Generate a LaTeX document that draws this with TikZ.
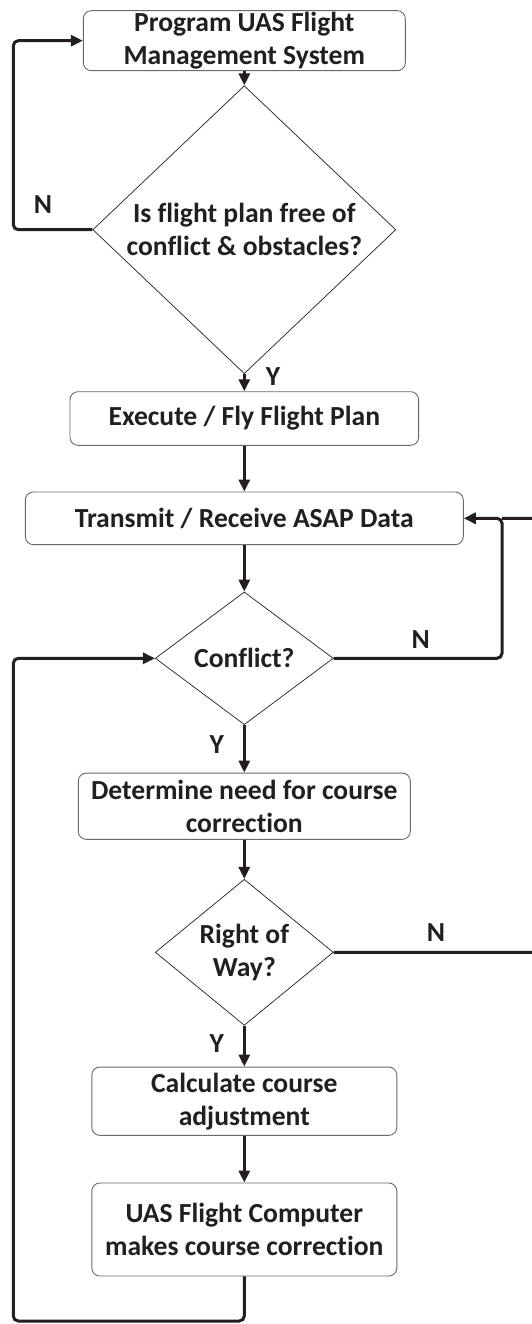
\documentclass[tikz,border=0pt]{standalone}
\usepackage{fontspec}
\setmainfont{Carlito}[Ligatures={NoCommon}]
\usetikzlibrary{shapes.geometric,arrows.meta}
\definecolor{ink}{HTML}{231F20}
\definecolor{boxline}{HTML}{6A6A6A}
\begin{document}
\begin{tikzpicture}[x=1pt,y=-1pt,
  every node/.style={font=\fontsize{27.6}{33}\selectfont\bfseries, text=ink},
  procbox/.style={draw=boxline, line width=0.9pt, rounded corners=8pt, inner sep=0pt, align=center},
  decide/.style={draw=ink, line width=0.7pt, diamond, inner sep=0pt, align=center},
  conn/.style={draw=ink, line width=3pt, rounded corners=5pt},
  arr/.style={conn, -{Triangle[length=12pt,width=11pt]}},
  lbl/.style={inner sep=0pt}]
\clip (0,0) rectangle (532,1324);
\fill[white] (0,0) rectangle (532,1324);

\node[procbox, minimum width=322pt, minimum height=60pt] (b1) at (244.3,40.7) {Program UAS Flight\\Management System};
\node[decide, minimum width=303pt, minimum height=226pt] (d1) at (244.3,229.7) {Is flight plan free of\\conflict \& obstacles?};
\node[procbox, minimum width=348.6pt, minimum height=53.6pt] (b2) at (244.3,418.5) {Execute / Fly Flight Plan};
\node[procbox, minimum width=438pt, minimum height=52.7pt] (b3) at (244.3,518.3) {Transmit / Receive ASAP Data};
\node[decide, minimum width=178pt, minimum height=132.7pt] (d2) at (244.3,658.3) {Conflict?};
\node[procbox, minimum width=332pt, minimum height=66.3pt] (b4) at (244.3,806.2) {Determine need for course\\correction};
\node[decide, minimum width=178pt, minimum height=132.7pt] (d3) at (244.3,952.3) {Right of\\Way?};
\node[procbox, minimum width=305pt, minimum height=68.3pt] (b5) at (244.3,1101.2) {Calculate course\\adjustment};
\node[procbox, minimum width=305pt, minimum height=93pt] (b6) at (244.3,1229.5) {UAS Flight Computer\\makes course correction};

\coordinate (l1a) at (13.3,229.7);
\coordinate (l1b) at (13.3,40.7);
\coordinate (r2a) at (502,658.3);
\coordinate (r2b) at (502,518.3);
\coordinate (r3a) at (545,952.3);
\coordinate (r3b) at (545,518.3);
\coordinate (bl1) at (244.3,1321);
\coordinate (bl2) at (13.3,1321);
\coordinate (bl3) at (13.3,658.3);

\draw[arr] (b1.south) -- (d1.north);
\draw[arr] (d1.west) -- (l1a) -- (l1b) -- (b1.west);
\draw[arr] (d1.south) -- (b2.north);
\draw[arr] (b2.south) -- (b3.north);
\draw[arr] (b3.south) -- (d2.north);
\draw[arr] (d2.east) -- (r2a) -- (r2b) -- (b3.east);
\draw[conn] (d3.east) -- (r3a) -- (r3b) -- (r2b);
\draw[arr] (d2.south) -- (b4.north);
\draw[arr] (b4.south) -- (d3.north);
\draw[arr] (d3.south) -- (b5.north);
\draw[arr] (b5.south) -- (b6.north);
\draw[arr] (b6.south) -- (bl1) -- (bl2) -- (bl3) -- (d2.west);

\node[lbl] (n1) at (43,205) {N};
\node[lbl] (y1) at (273,376.7) {Y};
\node[lbl] (n2) at (420.8,640) {N};
\node[lbl] (y2) at (216.7,745) {Y};
\node[lbl] (n3) at (436,933) {N};
\node[lbl] (y3) at (216.7,1043.7) {Y};
\end{tikzpicture}
\end{document}
